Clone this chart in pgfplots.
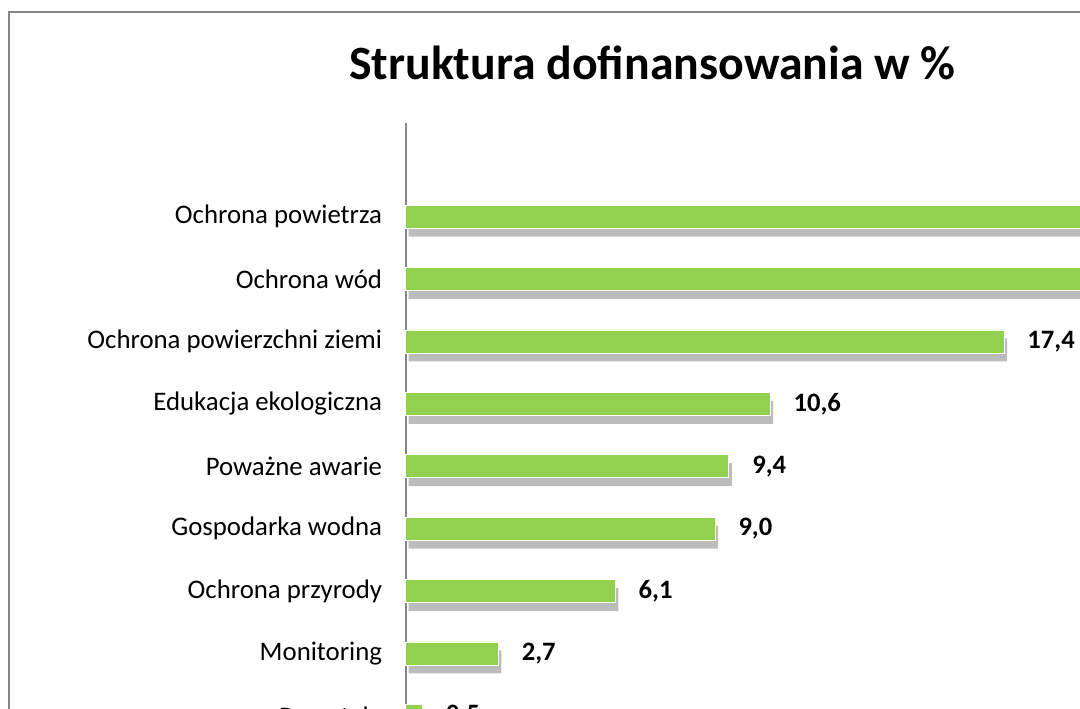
\documentclass[border=0pt]{standalone}
\usepackage{pgfplots}
\pgfplotsset{compat=1.18}
\usepackage{fontspec}
\setmainfont{Carlito}
\definecolor{barg}{RGB}{146,208,80}
\definecolor{frameg}{RGB}{134,134,134}
\definecolor{shadowg}{RGB}{188,188,188}
\begin{document}
\begin{tikzpicture}[x=0.5pt,y=0.5pt]
\useasboundingbox (0,0) rectangle (1080,708);
\clip (0,0) rectangle (1080,708);
\fill[white] (0,0) rectangle (1080,708);
\draw[frameg, line width=1pt] (9,696) rectangle (1400,-200);
\node[anchor=base, inner sep=0pt, font=\fontsize{23.9}{28}\selectfont\bfseries] at (652.5,628) {Struktura dofinansowania w \%};
\begin{axis}[
  at={(202.75pt,-19.5pt)}, anchor=south west,
  scale only axis, width=516pt, height=312pt,
  xmin=0, xmax=30, ymin=-1.5, ymax=8.5, y dir=reverse,
  xbar, bar width=11.5pt,
  axis x line=none, axis y line*=left,
  axis line style={frameg, line width=1pt, -},
  ytick={0,...,8},
  yticklabels={Ochrona powietrza, Ochrona wód, Ochrona powierzchni ziemi, Edukacja ekologiczna, Poważne awarie, Gospodarka wodna, Ochrona przyrody, Monitoring, Pozostałe},
  ytick style={draw=none},
  yticklabel style={font=\fontsize{13.4}{16}\selectfont, inner sep=0pt, anchor=east, xshift=-7.25pt},
  clip=false,
  /pgf/number format/.cd, fixed, fixed zerofill, precision=1, use comma, assume math mode=true,
]
\addplot[fill=shadowg, draw=none, bar shift=0pt, xshift=1.5pt, yshift=-4.25pt, forget plot]
  coordinates {(23.5,0) (20.8,1) (17.4,2) (10.6,3) (9.4,4) (9.0,5) (6.1,6) (2.7,7) (0.5,8)};
\addplot[fill=barg, draw=white, line width=0.4pt, bar shift=0pt,
  nodes near coords,
  nodes near coords style={font=\fontsize{13.3}{16}\selectfont\bfseries, text=black, anchor=west, inner sep=0pt, xshift=11.5pt}]
  coordinates {(23.5,0) (20.8,1) (17.4,2) (10.6,3) (9.4,4) (9.0,5) (6.1,6) (2.7,7) (0.5,8)};
\end{axis}
\end{tikzpicture}
\end{document}
